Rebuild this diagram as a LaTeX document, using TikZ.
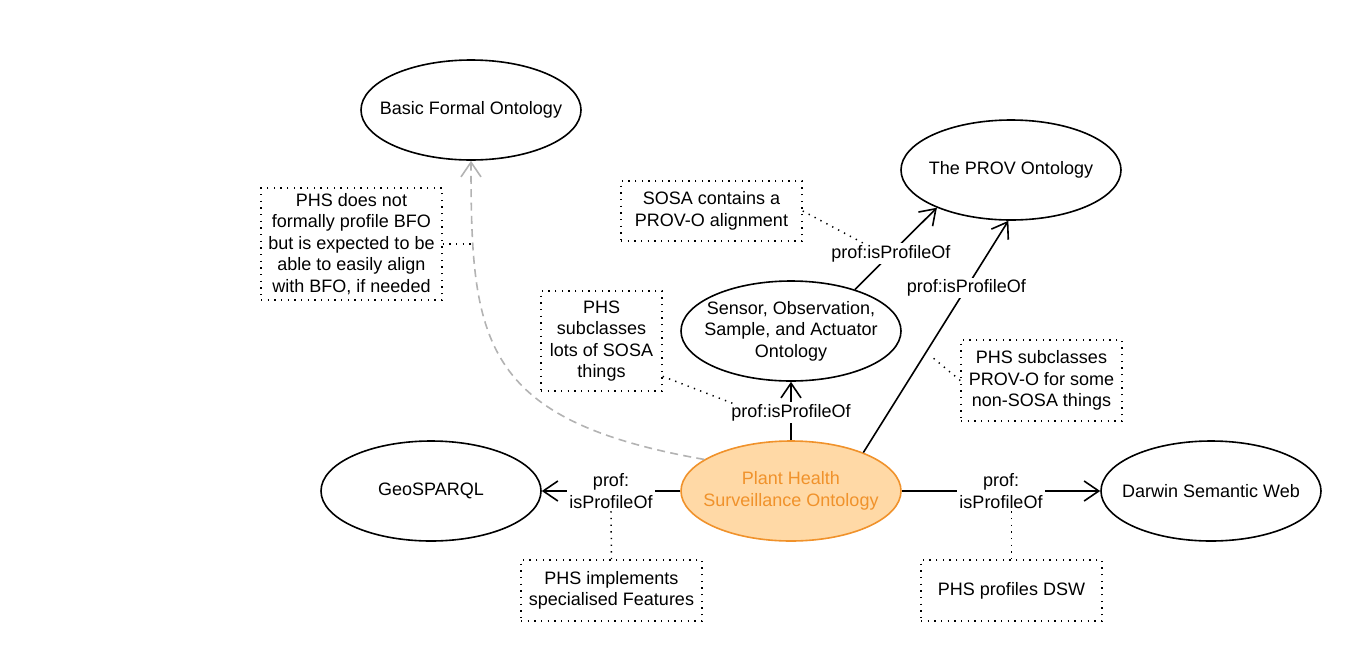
\documentclass[tikz,border=0pt]{standalone}
\usepackage{fontspec}
\setmainfont{Liberation Sans}
\usetikzlibrary{shapes.geometric,arrows.meta}
\definecolor{phsfill}{HTML}{FFD9A6}
\definecolor{phsline}{HTML}{F0922B}
\definecolor{dashgray}{HTML}{B3B3B3}
\begin{document}
\begin{tikzpicture}[x=0.75pt,y=-0.75pt,
  every node/.style={font=\fontsize{13.5pt}{16.2pt}\selectfont},
  onto/.style={ellipse,draw,line width=1.2pt,minimum width=165pt,minimum height=75pt,
    inner xsep=-12pt,inner ysep=0pt,align=center},
  note/.style={draw,line width=1.1pt,dash pattern=on 1pt off 4pt,align=center,inner sep=0pt},
  rel/.style={line width=1.2pt,-{Straight Barb[length=11pt,width=15pt,line width=1.2pt]}},
  softrel/.style={line width=1.2pt,draw=dashgray,dash pattern=on 6pt off 4pt,
    -{Straight Barb[length=11pt,width=15pt,line width=1.2pt,sep=0pt]}},
  lab/.style={fill=white,inner sep=1.5pt,align=center},
  link/.style={line width=1.1pt,dash pattern=on 1pt off 4pt}
]
\path[use as bounding box] (0,0) rectangle (1361,661);

% ontologies
\node[onto] (BFO) at (471,110) {Basic Formal Ontology};
\node[onto] (PROV) at (1011,170) {The PROV Ontology};
\node[onto] (SOSA) at (791,331) {Sensor, Observation,\\Sample, and Actuator\\Ontology};
\node[onto,fill=phsfill,draw=phsline,text=phsline] (PHS) at (791,491) {Plant Health\\Surveillance Ontology};
\node[onto] (GEO) at (431,491) {GeoSPARQL};
\node[onto] (DSW) at (1211,491) {Darwin Semantic Web};

% notes
\node[note,minimum width=135.75pt,minimum height=84pt] (nBFO) at (351.5,244)
  {PHS does not\\formally profile BFO\\but is expected to be\\able to easily align\\with BFO, if needed};
\node[note,minimum width=135.75pt,minimum height=45pt] (nSP) at (711.5,211)
  {SOSA contains a\\PROV-O alignment};
\node[note,minimum width=90.75pt,minimum height=75pt] (nSosa) at (601.5,341)
  {PHS\\subclasses\\lots of SOSA\\things};
\node[note,minimum width=120.75pt,minimum height=60.75pt] (nProv) at (1041.5,380.5)
  {PHS subclasses\\PROV-O for some\\non-SOSA things};
\node[note,minimum width=135.75pt,minimum height=45.75pt] (nGeo) at (611.5,590.5)
  {PHS implements\\specialised Features};
\node[note,minimum width=135.75pt,minimum height=45.75pt] (nDSW) at (1011.5,590.5)
  {PHS profiles DSW};

% relations
\draw[softrel] (PHS.160.6) .. controls (480,420) and (471,340) .. (BFO.south);
\draw[rel] (PHS.west) -- node[lab] (lGeo) {prof:\\isProfileOf} (GEO.east);
\draw[rel] (PHS.east) -- node[lab,pos=0.5] (lDSW) {prof:\\isProfileOf} (DSW.west);
\draw[rel] (PHS.north) -- node[lab,pos=0.47] (lSosa) {prof:isProfileOf} (SOSA.south);
\draw[rel] (SOSA.33.9) -- node[lab,pos=0.44] (lSP) {prof:isProfileOf} (PROV.207);
\draw[rel] (PHS.28.4) -- node[lab,pos=0.71] (lPP) {prof:isProfileOf} (PROV.267);

% note links
\coordinate (cB) at (471,244);
\coordinate (cSP) at (863,243);
\coordinate (cSosa) at (737,405);
\coordinate (cProv) at (932,357);
\draw[link] (nBFO.east) -- (cB);
\draw[link] (nSP.east) -- (cSP);
\draw[link] (nSosa.-30) -- (cSosa);
\draw[link] (nProv.west) -- (cProv);
\draw[link] (lGeo.south) -- (nGeo.north);
\draw[link] (lDSW.south -| nDSW.north) -- (nDSW.north);
\end{tikzpicture}
\end{document}
